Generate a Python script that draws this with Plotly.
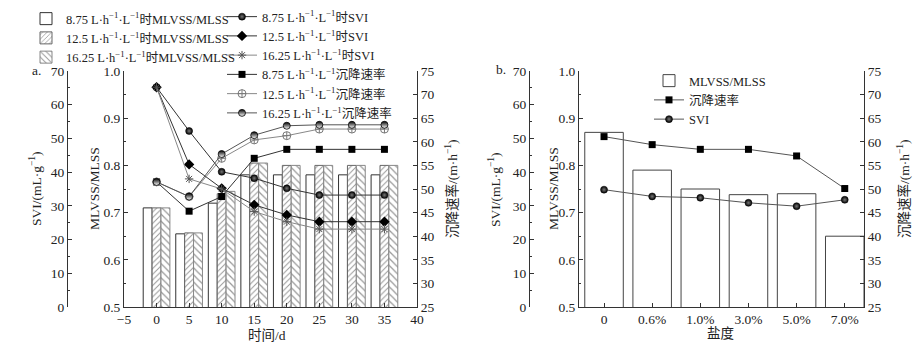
import plotly.graph_objects as go

# ---------------- data: panel a ----------------
days = [0, 5, 10, 15, 20, 25, 30, 35]
ratio_875 = [0.71, 0.655, 0.72, 0.78, 0.78, 0.78, 0.78, 0.78]
ratio_125 = [0.71, 0.657, 0.74, 0.805, 0.80, 0.80, 0.80, 0.80]
ratio_1625 = [0.71, 0.657, 0.745, 0.805, 0.80, 0.80, 0.80, 0.80]
svi_875 = [65.2, 52.2, 40.1, 38.2, 35.2, 33.2, 33.2, 33.2]
svi_125 = [65.2, 42.3, 35.2, 30.3, 27.3, 25.3, 25.3, 25.3]
svi_1625 = [65.2, 38.0, 35.0, 28.3, 25.3, 23.1, 23.1, 23.1]
rate_875 = [51.5, 45.3, 48.4, 56.5, 58.4, 58.4, 58.4, 58.4]
rate_125 = [51.5, 48.4, 56.5, 60.4, 61.3, 62.7, 62.7, 62.7]
rate_1625 = [51.5, 48.4, 57.4, 61.4, 63.4, 63.6, 63.6, 63.6]

# ---------------- data: panel b ----------------
salinity = ['0', '0.6%', '1.0%', '3.0%', '5.0%', '7.0%']
ratio_b = [0.87, 0.79, 0.75, 0.738, 0.74, 0.65]
rate_b = [61.1, 59.4, 58.4, 58.4, 57.0, 50.1]
svi_b = [34.8, 32.8, 32.4, 30.9, 29.9, 31.8]

U = "L·h<sup>−1</sup>·L<sup>−1</sup>"
FONT = "Liberation Serif, Times New Roman, Noto Sans CJK SC, serif"
FS = 13.5
LFS = 12.5
INK = "#222"

W, H = 923, 351
TOP, BOT = 71, 307


def px(x):
    return x / W


def py(y):
    return (BOT - y) / (BOT - TOP)


fig = go.Figure()

# bars panel a
fig.add_trace(go.Bar(x=days, y=ratio_875, name="8.75 " + U + "时MLVSS/MLSS",
                     marker=dict(color="white", line=dict(color="#333", width=1)),
                     xaxis="x", yaxis="y", legend="legend"))
fig.add_trace(go.Bar(x=days, y=ratio_125, name="12.5 " + U + "时MLVSS/MLSS",
                     marker=dict(color="white", line=dict(color="#666", width=1),
                                 pattern=dict(shape="/", size=4, solidity=0.25, fgcolor="#333")),
                     xaxis="x", yaxis="y", legend="legend"))
fig.add_trace(go.Bar(x=days, y=ratio_1625, name="16.25 " + U + "时MLVSS/MLSS",
                     marker=dict(color="white", line=dict(color="#888", width=1),
                                 pattern=dict(shape="\\", size=5, solidity=0.25, fgcolor="#333")),
                     xaxis="x", yaxis="y", legend="legend"))

# lines panel a
ms = 7
fig.add_trace(go.Scatter(x=days, y=svi_875, name="8.75 " + U + "时SVI", mode="lines+markers",
                         line=dict(color="#333", width=1),
                         marker=dict(symbol="circle", size=ms, color="#000",
                                     gradient=dict(type="radial", color="#777"),
                                     line=dict(color="#000", width=0.5)),
                         xaxis="x", yaxis="y2", legend="legend2"))
fig.add_trace(go.Scatter(x=days, y=svi_125, name="12.5 " + U + "时SVI", mode="lines+markers",
                         line=dict(color="#333", width=1),
                         marker=dict(symbol="diamond", size=ms + 1, color="#000"),
                         xaxis="x", yaxis="y2", legend="legend2"))
fig.add_trace(go.Scatter(x=days, y=svi_1625, name="16.25 " + U + "时SVI", mode="lines+markers",
                         line=dict(color="#888", width=1),
                         marker=dict(symbol="asterisk-open", size=ms, color="#555",
                                     line=dict(color="#555", width=1)),
                         xaxis="x", yaxis="y2", legend="legend2"))
fig.add_trace(go.Scatter(x=days, y=rate_875, name="8.75 " + U + "沉降速率", mode="lines+markers",
                         line=dict(color="#333", width=1),
                         marker=dict(symbol="square", size=ms, color="#000"),
                         xaxis="x", yaxis="y3", legend="legend2"))
fig.add_trace(go.Scatter(x=days, y=rate_125, name="12.5 " + U + "沉降速率", mode="lines+markers",
                         line=dict(color="#888", width=1),
                         marker=dict(symbol="circle-cross-open", size=ms + 1, color="#777",
                                     line=dict(color="#777", width=1)),
                         xaxis="x", yaxis="y3", legend="legend2"))
fig.add_trace(go.Scatter(x=days, y=rate_1625, name="16.25 " + U + "沉降速率", mode="lines+markers",
                         line=dict(color="#555", width=1),
                         marker=dict(symbol="circle", size=ms, color="#000",
                                     gradient=dict(type="vertical", color="#fff"),
                                     line=dict(color="#000", width=0.8)),
                         xaxis="x", yaxis="y3", legend="legend2"))

# panel b
fig.add_trace(go.Bar(x=salinity, y=ratio_b, name="MLVSS/MLSS", width=0.8,
                     marker=dict(color="white", line=dict(color="#444", width=1)),
                     xaxis="x2", yaxis="y4", legend="legend3"))
fig.add_trace(go.Scatter(x=salinity, y=rate_b, name="沉降速率", mode="lines+markers",
                         line=dict(color="#555", width=1),
                         marker=dict(symbol="square", size=ms, color="#000"),
                         xaxis="x2", yaxis="y6", legend="legend3"))
fig.add_trace(go.Scatter(x=salinity, y=svi_b, name="SVI", mode="lines+markers",
                         line=dict(color="#555", width=1),
                         marker=dict(symbol="circle", size=ms, color="#000",
                                     gradient=dict(type="radial", color="#777"),
                                     line=dict(color="#000", width=0.5)),
                         xaxis="x2", yaxis="y5", legend="legend3"))

axis_common = dict(showgrid=False, zeroline=False, showline=True, linecolor="#333",
                   linewidth=1, ticks="inside", ticklen=4, tickcolor="#333",
                   tickfont=dict(family=FONT, size=FS, color=INK), automargin=False)

ax_a = [124, 417]
ax_b = [579, 864]

leg_common = dict(xanchor="left", yanchor="top", bgcolor="rgba(0,0,0,0)",
                  font=dict(family=FONT, size=LFS, color=INK), itemwidth=30,
                  tracegroupgap=0)

fig.update_layout(
    width=W, height=H,
    margin=dict(l=0, r=0, t=TOP, b=H - BOT, autoexpand=False),
    paper_bgcolor="white", plot_bgcolor="white",
    barmode="group", bargap=0.18, bargroupgap=0,
    font=dict(family=FONT, size=FS, color=INK),
    xaxis=dict(domain=[px(ax_a[0]), px(ax_a[1])], range=[-5, 40], dtick=5, anchor="y",
               **axis_common),
    yaxis=dict(range=[0.5, 1.0], dtick=0.1, tickformat=".1f", anchor="x",
               minor=dict(ticks="inside", ticklen=2, dtick=0.05, tickcolor="#333"),
               **axis_common),
    yaxis2=dict(range=[0, 70], dtick=10, overlaying="y", anchor="free", side="left",
                position=px(67),
                minor=dict(ticks="inside", ticklen=2, dtick=5, tickcolor="#333"),
                **axis_common),
    yaxis3=dict(range=[25, 75], dtick=5, overlaying="y", anchor="x", side="right",
                **axis_common),
    xaxis2=dict(domain=[px(ax_b[0]), px(ax_b[1])], range=[-0.52, 5.4], type="category",
                anchor="y4", **axis_common),
    yaxis4=dict(range=[0.5, 1.0], dtick=0.1, tickformat=".1f", anchor="x2",
                minor=dict(ticks="inside", ticklen=2, dtick=0.05, tickcolor="#333"),
                **axis_common),
    yaxis5=dict(range=[0, 70], dtick=10, overlaying="y4", anchor="free", side="left",
                position=px(529),
                minor=dict(ticks="inside", ticklen=2, dtick=5, tickcolor="#333"),
                **axis_common),
    yaxis6=dict(range=[25, 75], dtick=5, overlaying="y4", anchor="x2", side="right",
                **axis_common),
    legend=dict(x=px(26), y=py(4), **leg_common),
    legend2=dict(x=px(222), y=py(2), **leg_common),
    legend3=dict(x=px(649), y=py(66), **leg_common),
)

ann = []


def add_text(text, x, y, angle=0, xanchor="center", yanchor="middle"):
    ann.append(dict(text=text, x=px(x), y=py(y), xref="paper", yref="paper",
                    showarrow=False, textangle=angle, xanchor=xanchor, yanchor=yanchor,
                    font=dict(family=FONT, size=FS, color=INK)))


add_text("a.", 30, 70, xanchor="left")
add_text("b.", 494, 69, xanchor="left")
add_text("SVI/(mL·g<sup>−1</sup>)", 35, 189, angle=-90)
add_text("MLVSS/MLSS", 94, 189, angle=-90)
add_text("沉降速率/(m·h<sup>−1</sup>)", 451, 189, angle=-90)
add_text("时间/d", 267, 335)
add_text("SVI/(mL·g<sup>−1</sup>)", 494, 189, angle=-90)
add_text("MLVSS/MLSS", 553, 189, angle=-90)
add_text("沉降速率/(m·h<sup>−1</sup>)", 903, 189, angle=-90)
add_text("盐度", 720, 333)

fig.update_layout(annotations=ann)

# remove the browser's default 8px page margin so the figure sits at the window origin
fig.write_html("out.html", config={"displayModeBar": False},
               post_script="document.body.style.margin='0';document.body.style.overflow='hidden';")
